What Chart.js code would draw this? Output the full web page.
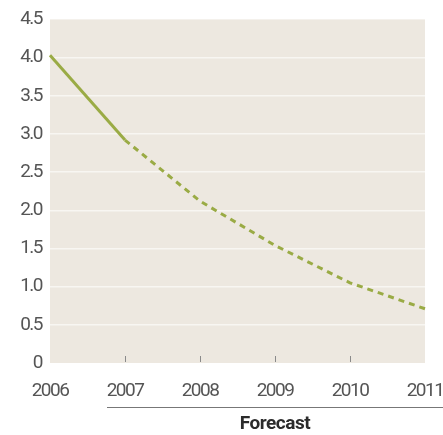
<!DOCTYPE html>
<html lang="en">
<head>
  <meta charset="UTF-8">
  <title>Forecast</title>
  <script src="https://cdn.jsdelivr.net/npm/chart.js"></script>
  <style>
    body {
      margin: 0;
      padding: 0;
      background: #ffffff;
    }
    #wrap {
      width: 443px;
      height: 435px;
    }
  </style>
</head>
<body>
  <div id="wrap">
    <canvas id="forecastChart" width="443" height="435"></canvas>
  </div>

  <script>
    // Data
    const years = ['2006', '2007', '2008', '2009', '2010', '2011'];
    const values = [4.03, 2.92, 2.12, 1.54, 1.05, 0.71];
    const yTicks = [0, 0.5, 1.0, 1.5, 2.0, 2.5, 3.0, 3.5, 4.0, 4.5];
    const forecastLabel = 'Forecast';

    const fontFamily = 'Roboto, "Liberation Sans", sans-serif';
    const lineColor = '#9aab45';

    // no narrow font installed, so tighten the letters a bit
    function tighten(chart) {
      chart.ctx.letterSpacing = '-1.5px';
    }

    // Beige plot area, small tick marks and the forecast bracket
    const decorPlugin = {
      id: 'decor',
      beforeLayout(chart) {
        tighten(chart);
      },
      beforeDraw(chart) {
        const { ctx, chartArea } = chart;
        tighten(chart);
        ctx.save();
        ctx.fillStyle = '#ede8e0';
        ctx.fillRect(chartArea.left, chartArea.top,
          chartArea.right - chartArea.left, chartArea.bottom - chartArea.top);
        ctx.restore();
      },
      afterDatasetsDraw(chart) {
        const { ctx, chartArea, scales } = chart;
        ctx.save();
        ctx.strokeStyle = '#8a8a8a';
        ctx.lineWidth = 1;
        for (let i = 1; i < years.length - 1; i++) {
          const x = Math.round(scales.x.getPixelForValue(i)) + 0.5;
          ctx.beginPath();
          ctx.moveTo(x, chartArea.bottom - 7);
          ctx.lineTo(x, chartArea.bottom - 1);
          ctx.stroke();
        }

        // forecast bracket under the labels
        const x0 = scales.x.getPixelForValue(0.76);
        const lineY = chartArea.bottom + 44.5;
        ctx.strokeStyle = '#777777';
        ctx.beginPath();
        ctx.moveTo(x0, lineY);
        ctx.lineTo(chart.width, lineY);
        ctx.stroke();

        ctx.fillStyle = '#2b2b2b';
        ctx.letterSpacing = '-0.5px';
        ctx.font = 'bold 19px ' + fontFamily;
        ctx.textAlign = 'center';
        ctx.textBaseline = 'middle';
        ctx.fillText(forecastLabel, scales.x.getPixelForValue(3), chartArea.bottom + 61);
        ctx.restore();
      }
    };

    const config = {
      type: 'line',
      data: {
        labels: years,
        datasets: [{
          data: values,
          borderColor: lineColor,
          borderWidth: 3,
          pointRadius: 0,
          tension: 0,
          segment: {
            borderDash: ctx => ctx.p0DataIndex >= 1 ? [6, 5] : undefined
          }
        }]
      },
      options: {
        responsive: false,
        animation: false,
        layout: {
          padding: { top: 17, right: 18, left: 0, bottom: 0 }
        },
        plugins: {
          legend: { display: false },
          tooltip: { enabled: false }
        },
        scales: {
          x: {
            offset: false,
            grid: { display: false },
            border: { display: false },
            ticks: {
              color: '#555555',
              font: { family: fontFamily, size: 19 },
              padding: 9,
              maxRotation: 0
            },
            afterFit(scale) {
              scale.height = 72;
              scale.paddingLeft = 0;
              scale.paddingRight = 18;
            }
          },
          y: {
            min: 0,
            max: 4.5,
            border: { display: false },
            grid: {
              color: ctx => (ctx.tick.value > 0 && ctx.tick.value < 4.5) ? '#f8f6f2' : 'rgba(0,0,0,0)',
              lineWidth: 1.5,
              drawTicks: false
            },
            afterBuildTicks(scale) {
              scale.ticks = yTicks.map(v => ({ value: v }));
            },
            ticks: {
              color: '#555555',
              font: { family: fontFamily, size: 19 },
              padding: 8,
              callback: v => v === 0 ? '0' : v.toFixed(1)
            },
            afterFit(scale) {
              scale.width = 50;
            }
          }
        }
      },
      plugins: [decorPlugin]
    };

    new Chart(document.getElementById('forecastChart').getContext('2d'), config);
  </script>
</body>
</html>
